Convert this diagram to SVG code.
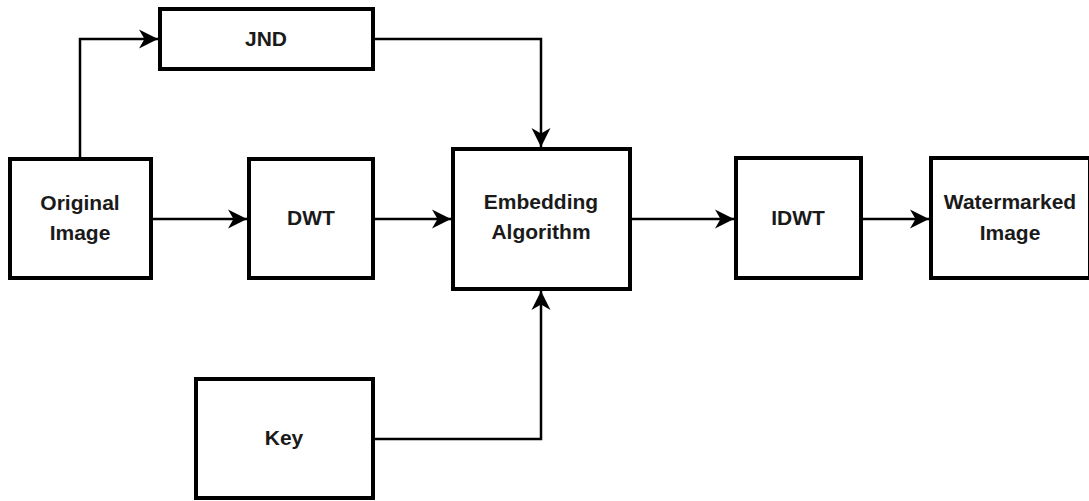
<svg xmlns="http://www.w3.org/2000/svg" width="1089" height="501" viewBox="0 0 1089 501">
<style>
.box{fill:#fff;stroke:#000;stroke-width:4}
.lbl{font-family:"Liberation Sans",Arial,sans-serif;font-weight:bold;font-size:21px;fill:#1a1a1a;text-anchor:middle}
.edge{fill:none;stroke:#000;stroke-width:2.5}
</style>
<defs>
<marker id="arr" markerUnits="userSpaceOnUse" markerWidth="22" markerHeight="22" viewBox="0 0 22 22" refX="20" refY="11" orient="auto">
<path d="M1,1.5 L20,11 L1,20.5 L6.5,11 Z" fill="#000"/>
</marker>
</defs>
<rect width="1089" height="501" fill="#fff"/>
<g id="connectors">
<path class="edge" d="M80,157 V39 H158" marker-end="url(#arr)"/>
<path class="edge" d="M375,39 H541 V147" marker-end="url(#arr)"/>
<path class="edge" d="M153,219 H247" marker-end="url(#arr)"/>
<path class="edge" d="M375,219 H451" marker-end="url(#arr)"/>
<path class="edge" d="M632,219 H734" marker-end="url(#arr)"/>
<path class="edge" d="M863,219 H929" marker-end="url(#arr)"/>
<path class="edge" d="M375,439 H541 V291" marker-end="url(#arr)"/>
</g>
<g id="jnd"><rect class="box" x="160" y="9" width="213" height="60"/><text class="lbl" x="266" y="46">JND</text></g>
<g id="original"><rect class="box" x="10" y="159" width="141" height="119"/><text class="lbl" x="80" y="210">Original</text><text class="lbl" x="80" y="240">Image</text></g>
<g id="dwt"><rect class="box" x="249" y="159" width="124" height="119"/><text class="lbl" x="311" y="225">DWT</text></g>
<g id="embedding"><rect class="box" x="453" y="149" width="177" height="140"/><text class="lbl" x="541" y="209">Embedding</text><text class="lbl" x="541" y="239">Algorithm</text></g>
<g id="idwt"><rect class="box" x="736" y="158" width="125" height="120"/><text class="lbl" x="798" y="225">IDWT</text></g>
<g id="watermarked"><rect class="box" x="931" y="158" width="159" height="120"/><text class="lbl" x="1010" y="209">Watermarked</text><text class="lbl" x="1010" y="240">Image</text></g>
<g id="key"><rect class="box" x="196" y="379" width="177" height="119"/><text class="lbl" x="284" y="445">Key</text></g>
</svg>
